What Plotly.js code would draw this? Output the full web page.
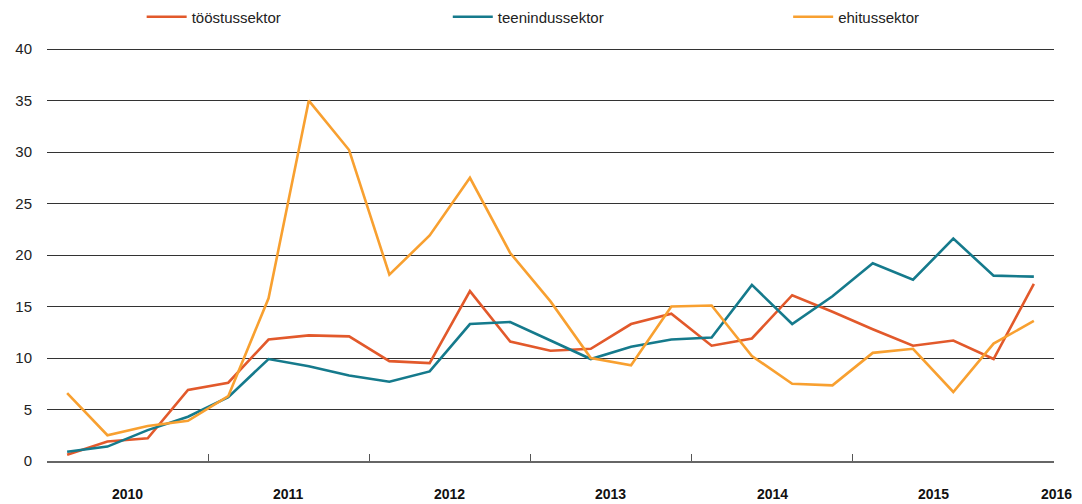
<!DOCTYPE html>
<html>
<head>
<meta charset="utf-8">
<script src="https://cdn.plot.ly/plotly-3.0.1.min.js"></script>
<style>html,body{margin:0;padding:0;background:#fff;}#chart{width:1082px;height:504px;}</style>
</head>
<body>
<div id="chart"></div>
<script>
// Quarterly data 2010Q1 .. 2016Q1
const quarters = ['2010Q1','2010Q2','2010Q3','2010Q4','2011Q1','2011Q2','2011Q3','2011Q4','2012Q1','2012Q2','2012Q3','2012Q4','2013Q1','2013Q2','2013Q3','2013Q4','2014Q1','2014Q2','2014Q3','2014Q4','2015Q1','2015Q2','2015Q3','2015Q4','2016Q1'];
const toostussektor = [0.6,1.9,2.2,6.9,7.6,11.8,12.2,12.1,9.7,9.5,16.5,11.6,10.7,10.9,13.3,14.3,11.2,11.9,16.1,14.5,12.8,11.2,11.7,9.9,17.2];
const teenindussektor = [0.9,1.4,3.0,4.3,6.2,9.9,9.2,8.3,7.7,8.7,13.3,13.5,11.7,9.9,11.1,11.8,12.0,17.1,13.3,16.0,19.2,17.6,21.6,18.0,17.9];
const ehitussektor = [6.6,2.5,3.4,3.9,6.3,15.8,35.0,30.2,18.1,21.9,27.5,20.2,15.5,10.0,9.3,15.0,15.1,10.2,7.5,7.35,10.5,10.9,6.7,11.4,13.6];
const years = ['2010','2011','2012','2013','2014','2015','2016'];
const seriesNames = ['tööstussektor','teenindussektor','ehitussektor'];
const colors = ['#E2592B','#157A8C','#F8A030'];

const xIdx = quarters.map((q,i)=>i);
const nQ = quarters.length;
const font = '"Liberation Sans", Arial, Helvetica, sans-serif';

const traces = [toostussektor, teenindussektor, ehitussektor].map((vals,k)=>({
  type:'scatter', mode:'lines', x:xIdx, y:vals, name:seriesNames[k],
  line:{color:colors[k], width:2.6},
  legend: k===0 ? 'legend' : (k===1 ? 'legend2' : 'legend3')
}));

// year boundaries and label positions (quarter index)
const boundaries = years.slice(0,6).map((y,i)=>i*4-0.5);
const yearPos = years.map((y,i)=> i<6 ? i*4+1.5 : 24.55);

const legendBase = {orientation:'h', yanchor:'middle', y:1.070, xanchor:'left', itemwidth:40,
  font:{family:font, size:15, color:'#222'}, bgcolor:'rgba(0,0,0,0)', borderwidth:0};

const layout = {
  width:1082, height:504,
  margin:{l:46.7, r:28, t:46, b:43, autoexpand:false},
  paper_bgcolor:'#fff', plot_bgcolor:'#fff',
  font:{family:font, size:14, color:'#222'},
  showlegend:true,
  legend: Object.assign({}, legendBase, {x:0.094}),
  legend2: Object.assign({}, legendBase, {x:0.398}),
  legend3: Object.assign({}, legendBase, {x:0.736}),
  xaxis:{
    range:[-0.5,nQ-0.5], tickmode:'array', tickvals:boundaries, ticktext:boundaries.map(()=>''),
    ticks:'inside', ticklen:7, tickcolor:'#555', tickwidth:1.2,
    showgrid:false, zeroline:false, showline:true, linecolor:'#666', linewidth:1.6,
    fixedrange:true
  },
  yaxis:{
    range:[0,40.3], tickvals:[0,5,10,15,20,25,30,35,40],
    showgrid:true, gridcolor:'#333', gridwidth:1,
    zeroline:false, showline:false, ticks:'', ticklabelstandoff:14,
    tickfont:{family:font, size:15, color:'#222'},
    fixedrange:true
  },
  annotations: years.map((y,i)=>({
    text:'<b>'+y+'</b>', x:(yearPos[i]+0.5)/nQ, xref:'paper', xanchor:'center', y:0, yref:'paper',
    yanchor:'top', yshift:-23, showarrow:false,
    font:{family:font, size:14, color:'#111'}
  }))
};

Plotly.newPlot('chart', traces, layout, {displayModeBar:false, staticPlot:true});
</script>
</body>
</html>
